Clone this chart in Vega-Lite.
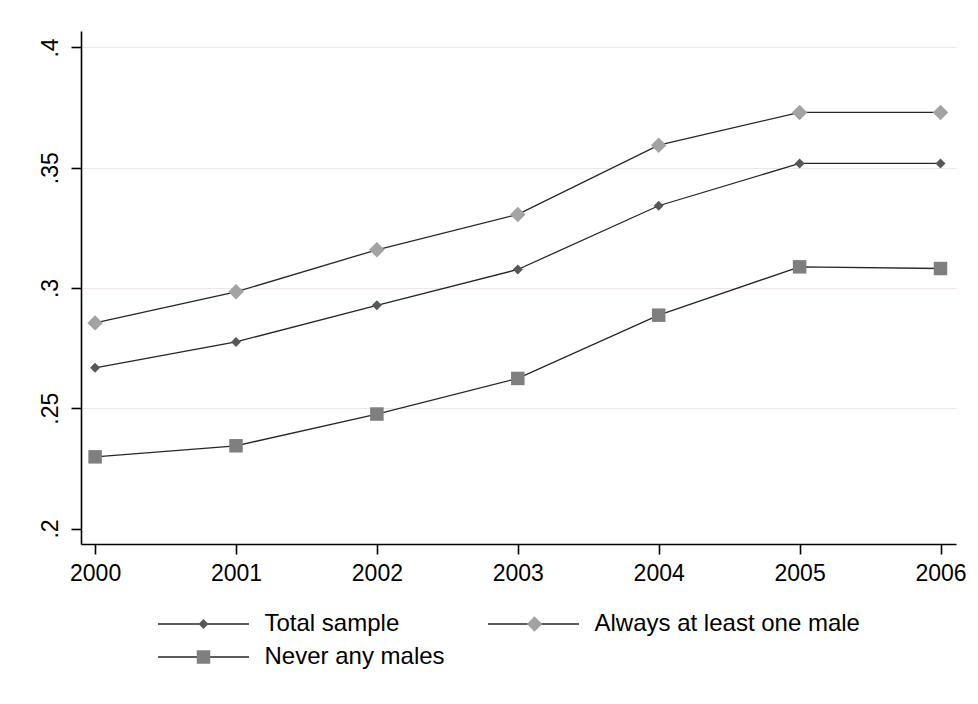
{
  "$schema": "https://vega.github.io/schema/vega-lite/v6.json",
  "width": 875,
  "height": 513,
  "autosize": {"type": "none"},
  "padding": {"left": 81, "top": 31, "right": 22, "bottom": 160},
  "background": "white",
  "config": {
    "view": {"stroke": null},
    "font": "Liberation Sans",
    "axis": {
      "domainColor": "#000000",
      "domainWidth": 1.6,
      "tickColor": "#000000",
      "tickWidth": 1.6,
      "tickSize": 10,
      "labelColor": "#000000",
      "labelFont": "Liberation Sans",
      "labelFontSize": 23,
      "title": null
    }
  },
  "data": {
    "values": [
      {"year": 2000, "series": "Total sample", "value": 0.2668},
      {"year": 2001, "series": "Total sample", "value": 0.2776},
      {"year": 2002, "series": "Total sample", "value": 0.2928},
      {"year": 2003, "series": "Total sample", "value": 0.3077},
      {"year": 2004, "series": "Total sample", "value": 0.3342},
      {"year": 2005, "series": "Total sample", "value": 0.3518},
      {"year": 2006, "series": "Total sample", "value": 0.3518},
      {"year": 2000, "series": "Always at least one male", "value": 0.2855},
      {"year": 2001, "series": "Always at least one male", "value": 0.2984},
      {"year": 2002, "series": "Always at least one male", "value": 0.3159},
      {"year": 2003, "series": "Always at least one male", "value": 0.3306},
      {"year": 2004, "series": "Always at least one male", "value": 0.3594},
      {"year": 2005, "series": "Always at least one male", "value": 0.3730},
      {"year": 2006, "series": "Always at least one male", "value": 0.3730},
      {"year": 2000, "series": "Never any males", "value": 0.2298},
      {"year": 2001, "series": "Never any males", "value": 0.2344},
      {"year": 2002, "series": "Never any males", "value": 0.2476},
      {"year": 2003, "series": "Never any males", "value": 0.2624},
      {"year": 2004, "series": "Never any males", "value": 0.2887},
      {"year": 2005, "series": "Never any males", "value": 0.3088},
      {"year": 2006, "series": "Never any males", "value": 0.3081}
    ]
  },
  "layer": [
    {
      "mark": {"type": "line", "strokeWidth": 1.3},
      "encoding": {
        "x": {
          "field": "year",
          "type": "quantitative",
          "scale": {"domain": [1999.9, 2006.11], "nice": false, "zero": false},
          "axis": {
            "values": [2000, 2001, 2002, 2003, 2004, 2005, 2006],
            "format": "d",
            "grid": false,
            "labelPadding": 8,
            "labelFlush": false
          }
        },
        "y": {
          "field": "value",
          "type": "quantitative",
          "scale": {"domain": [0.19356, 0.40686], "nice": false, "zero": false},
          "axis": {
            "values": [0.2, 0.25, 0.3, 0.35, 0.4],
            "format": ".2~f",
            "labelExpr": "replace(datum.label, '0.', '.')",
            "labelAngle": -90,
            "labelAlign": "center",
            "labelBaseline": "bottom",
            "labelPadding": 9,
            "grid": true,
            "gridWidth": 1,
            "gridColor": {"condition": {"test": "datum.value < 0.21", "value": "transparent"}, "value": "#efe7e7"}
          }
        },
        "stroke": {
          "field": "series",
          "type": "nominal",
          "sort": ["Total sample", "Always at least one male", "Never any males"],
          "scale": {"range": ["#262626", "#262626", "#262626"]},
          "legend": {
            "title": null,
            "orient": "none",
            "direction": "horizontal",
            "legendX": 110.5,
            "legendY": 581,
            "columns": 2,
            "padding": 0,
            "symbolType": "M-4.55,0H4.55",
            "symbolSize": 400,
            "symbolStrokeWidth": 1.5,
            "labelFont": "Liberation Sans",
            "labelFontSize": 24,
            "labelColor": "#000000",
            "labelOffset": 49,
            "labelLimit": 0,
            "columnPadding": 39,
            "rowPadding": 9
          }
        }
      }
    },
    {
      "mark": {"type": "point", "filled": true, "opacity": 1, "strokeWidth": 0},
      "encoding": {
        "x": {"field": "year", "type": "quantitative"},
        "y": {"field": "value", "type": "quantitative"},
        "fill": {
          "field": "series",
          "type": "nominal",
          "scale": {
            "domain": ["Total sample", "Always at least one male", "Never any males"],
            "range": ["#575757", "#a3a3a3", "#7f7f7f"]
          },
          "legend": {
            "title": null,
            "orient": "none",
            "direction": "horizontal",
            "legendX": 110.5,
            "legendY": 581,
            "columns": 2,
            "padding": 0,
            "symbolStrokeWidth": 0,
            "symbolOpacity": 1,
            "labelFont": "Liberation Sans",
            "labelFontSize": 24,
            "labelExpr": "''",
            "labelOffset": 49,
            "labelLimit": 0,
            "columnPadding": 258,
            "rowPadding": 9
          }
        },
        "shape": {
          "field": "series",
          "type": "nominal",
          "scale": {
            "domain": ["Total sample", "Always at least one male", "Never any males"],
            "range": ["diamond", "diamond", "square"]
          },
          "legend": {
            "title": null,
            "orient": "none",
            "direction": "horizontal",
            "legendX": 110.5,
            "legendY": 581,
            "columns": 2,
            "padding": 0,
            "symbolStrokeWidth": 0,
            "symbolOpacity": 1,
            "labelFont": "Liberation Sans",
            "labelFontSize": 24,
            "labelExpr": "''",
            "labelOffset": 49,
            "labelLimit": 0,
            "columnPadding": 258,
            "rowPadding": 9
          }
        },
        "size": {
          "field": "series",
          "type": "nominal",
          "scale": {
            "type": "ordinal",
            "domain": ["Total sample", "Always at least one male", "Never any males"],
            "range": [100, 240, 182]
          },
          "legend": {
            "title": null,
            "orient": "none",
            "direction": "horizontal",
            "legendX": 110.5,
            "legendY": 581,
            "columns": 2,
            "padding": 0,
            "symbolStrokeWidth": 0,
            "symbolOpacity": 1,
            "labelFont": "Liberation Sans",
            "labelFontSize": 24,
            "labelExpr": "''",
            "labelOffset": 49,
            "labelLimit": 0,
            "columnPadding": 258,
            "rowPadding": 9
          }
        }
      }
    }
  ]
}
